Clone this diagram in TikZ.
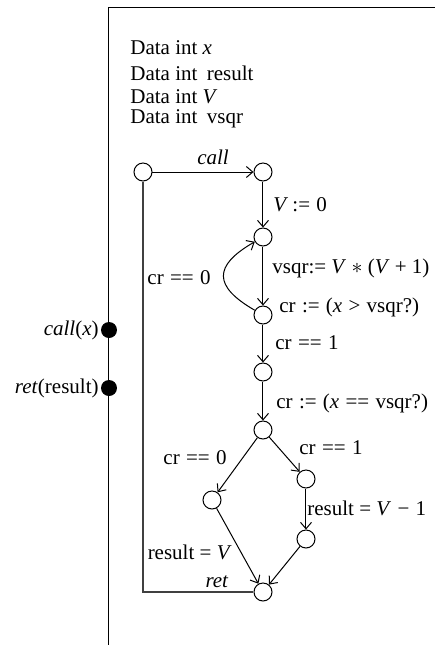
\documentclass[tikz,border=0pt]{standalone}
\usepackage{fontspec}
\setmainfont{Liberation Serif}
\usetikzlibrary{arrows.meta}
\newcommand{\opsp}[1]{\hspace{0.3em}#1\hspace{0.3em}}
\begin{document}
\begin{tikzpicture}[x=0.5pt,y=-0.5pt,
  st/.style={circle,draw,fill=white,inner sep=0pt,minimum size=9pt,line width=0.5pt},
  dot/.style={circle,fill=black,inner sep=0pt,minimum size=8pt},
  tr/.style={-{Straight Barb[length=3.2pt,width=5.5pt]},line width=0.5pt},
  gl/.style={line width=0.7pt,draw=black!75},
  lbl/.style={inner sep=0pt,font=\fontsize{10.5}{12}\selectfont}]
\useasboundingbox (0,0) rectangle (435,645);
% frame
\coordinate (bl) at (109,645);
\coordinate (tl) at (109,7);
\coordinate (tr0) at (435,7);
\draw[line width=0.5pt] (bl) -- (tl) -- (tr0);
% declarations
\node[lbl,anchor=west] (d1) at (130,48) {Data int \textit{x}};
\node[lbl,anchor=west] (d2) at (130,73) {Data int\hspace{0.45em}result};
\node[lbl,anchor=west] (d3) at (130,97) {Data int \textit{V}};
\node[lbl,anchor=west] (d4) at (130,119) {Data int\hspace{0.45em}vsqr};
% ports
\node[dot] (pc) at (109,330) {};
\node[dot] (pr) at (109,388) {};
\node[lbl,anchor=east] (lpc) at (99,330) {\textit{call}(\textit{x})};
\node[lbl,anchor=east] (lpr) at (99,388) {\textit{ret}(result)};
% states
\node[st] (s) at (143,172) {};
\node[st] (c) at (263,172) {};
\node[st] (n2) at (263,237) {};
\node[st] (n3) at (263,315) {};
\node[st] (n4) at (263,372) {};
\node[st] (n5) at (263,430) {};
\node[st] (L) at (212,500) {};
\node[st] (R) at (306,479) {};
\node[st] (R2) at (306,539) {};
\node[st] (r) at (263,592) {};
% return path
\draw[gl] (s) -- (s |- r) -- (r);
% transitions
\draw[tr] (s) -- (c);
\draw[tr] (c) -- (n2);
\draw[tr] (n2) -- (n3);
\draw[tr] (n3) to[out=150,in=210,looseness=1.8] (n2);
\draw[tr] (n3) -- (n4);
\draw[tr] (n4) -- (n5);
\draw[tr] (n5) -- (L);
\draw[tr] (n5) -- (R);
\draw[tr] (R) -- (R2);
\draw[tr] (L) -- (r);
\draw[tr] (R2) -- (r);
% labels
\node[lbl] (lcall) at (213,157) {\textit{call}};
\node[lbl,anchor=west] (lv0) at (273,205) {\textit{V}\hspace{0.2em}:=\hspace{0.3em}0};
\node[lbl,anchor=east] (lcr0a) at (211,278) {cr\opsp{==}0};
\node[lbl,anchor=west] (lvsqr) at (272,268) {vsqr:=\hspace{0.25em}\textit{V}\hspace{0.25em}$\ast$\hspace{0.25em}(\textit{V}\hspace{0.25em}+\hspace{0.25em}1)};
\node[lbl,anchor=west] (lcrgt) at (279,307) {cr\opsp{:=}(\textit{x}\opsp{>}vsqr?)};
\node[lbl,anchor=west] (lcr1a) at (275,343) {cr\opsp{==}1};
\node[lbl,anchor=west] (lcreq) at (276,403) {cr\opsp{:=}(\textit{x}\opsp{==}vsqr?)};
\node[lbl,anchor=east] (lcr0b) at (227,458) {cr\opsp{==}0};
\node[lbl,anchor=west] (lcr1b) at (299,448) {cr\opsp{==}1};
\node[lbl,anchor=west] (lres1) at (307,508) {result = \textit{V}\opsp{−}1};
\node[lbl,anchor=east] (lres0) at (232,552) {result = \textit{V}};
\node[lbl] (lret) at (217,582) {\textit{ret}};
\end{tikzpicture}
\end{document}
